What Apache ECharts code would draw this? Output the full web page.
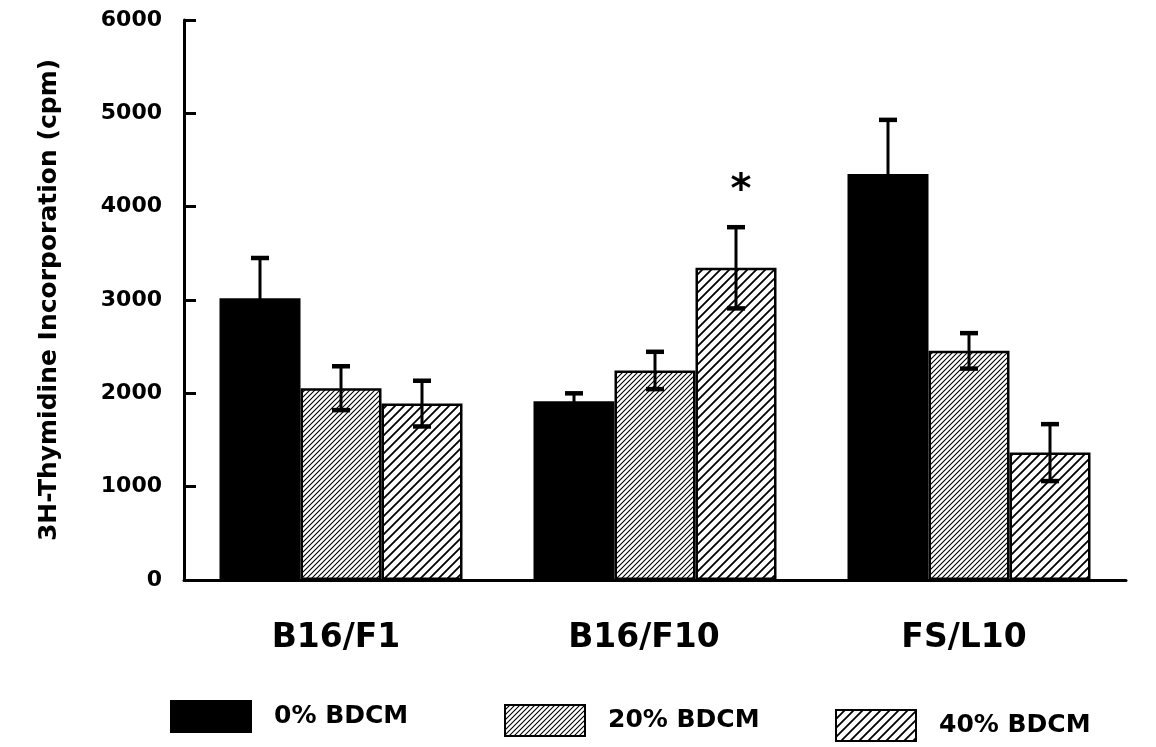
<!DOCTYPE html>
<html>
<head>
<meta charset="utf-8">
<script src="https://cdn.jsdelivr.net/npm/echarts@6/dist/echarts.min.js"></script>
<style>
html,body{margin:0;padding:0;background:#fff;}
#chart{width:1156px;height:747px;}
</style>
</head>
<body>
<div id="chart"></div>
<script>
// ---- data ----
const categories = ['B16/F1', 'B16/F10', 'FS/L10'];
const seriesNames = ['0% BDCM', '20% BDCM', '40% BDCM'];
const means0 = [3020, 1915, 4350];
const errs0 = [430, 85, 580];
const means20 = [2055, 2245, 2455];
const errs20 = [235, 200, 190];
const means40 = [1890, 3345, 1365];
const errs40 = [245, 435, 305];
const marks40 = ['', '*', ''];
const yTicks = [0, 1000, 2000, 3000, 4000, 5000, 6000];
const yTitle = '3H-Thymidine Incorporation (cpm)';

// ---- styles ----
const FONT = '"DejaVu Sans", "Liberation Sans", Arial, sans-serif';
const BAR_W = 81;
const labelShift = [10, 22, 10]; // right padding of category labels (moves them slightly left)

function makeHatch(s, lw) {
  const c = document.createElement('canvas');
  c.width = s; c.height = s;
  const ctx = c.getContext('2d');
  ctx.fillStyle = '#fff';
  ctx.fillRect(0, 0, s, s);
  ctx.strokeStyle = '#000';
  ctx.lineWidth = lw;
  ctx.beginPath();
  ctx.moveTo(-1, 1); ctx.lineTo(1, -1);
  ctx.moveTo(0, s); ctx.lineTo(s, 0);
  ctx.moveTo(s - 1, s + 1); ctx.lineTo(s + 1, s - 1);
  ctx.stroke();
  return { image: c, repeat: 'repeat' };
}
const fills = ['#000', makeHatch(5, 1.1), makeHatch(9, 1.8)];
const meansAll = [means0, means20, means40];
const errsAll = [errs0, errs20, errs40];
const marksAll = [null, null, marks40];

const chart = echarts.init(document.getElementById('chart'), null, { renderer: 'canvas' });

const barSeries = seriesNames.map((name, k) => ({
  type: 'bar',
  name: name,
  data: meansAll[k],
  barWidth: BAR_W,
  barGap: '0%',
  itemStyle: { color: fills[k], borderColor: '#000', borderWidth: 2.5 },
  emphasis: { disabled: true },
  z: 2
}));

const errSeries = seriesNames.map((name, k) => ({
  type: 'custom',
  name: name + ' err',
  data: meansAll[k].map((m, i) => [i, m, errsAll[k][i]]),
  encode: { x: 0, y: 1 },
  z: 5,
  silent: true,
  renderItem: function (params, api) {
    const i = api.value(0), m = api.value(1), e = api.value(2);
    const off = (k - 1) * BAR_W;
    const top = api.coord([i, m + e]);
    const bot = api.coord([i, m - e]);
    const x = top[0] + off;
    const cap = 9;
    const st = { stroke: '#000', lineWidth: 3 };
    const children = [
      { type: 'line', shape: { x1: x, y1: top[1], x2: x, y2: bot[1] }, style: st },
      { type: 'line', shape: { x1: x - cap, y1: top[1], x2: x + cap, y2: top[1] }, style: { stroke: '#000', lineWidth: 4.5 } },
      { type: 'line', shape: { x1: x - cap, y1: bot[1], x2: x + cap, y2: bot[1] }, style: { stroke: '#000', lineWidth: 4.5 } }
    ];
    const marks = marksAll[k];
    if (marks && marks[i]) {
      children.push({
        type: 'text',
        style: {
          x: x + 5, y: top[1] - 36, text: marks[i],
          font: 'bold 40px ' + FONT, fill: '#000',
          align: 'center', verticalAlign: 'middle'
        }
      });
    }
    return { type: 'group', children: children };
  }
}));

const legendLefts = [165, 499, 830];
const legendTops = [695, 699, 704];
const legends = seriesNames.map((name, k) => ({
  data: [name],
  left: legendLefts[k],
  top: legendTops[k],
  itemWidth: 80,
  itemHeight: 31,
  icon: 'rect',
  selectedMode: false,
  textStyle: { fontFamily: FONT, fontWeight: 'bold', fontSize: 25, color: '#000', padding: [14, 0, 0, 18] }
}));

chart.setOption({
  animation: false,
  backgroundColor: '#fff',
  grid: { left: 184, right: 30, top: 20, bottom: 167 },
  legend: legends,
  xAxis: {
    type: 'category',
    data: categories.map((c, i) => ({ value: c, textStyle: { padding: [0, labelShift[i], 0, 0] } })),
    axisLine: { lineStyle: { color: '#000', width: 3 } },
    axisTick: { show: false },
    axisLabel: {
      color: '#000', fontFamily: FONT, fontWeight: 'bold', fontSize: 33,
      margin: 42
    }
  },
  yAxis: {
    type: 'value',
    min: yTicks[0],
    max: yTicks[yTicks.length - 1],
    interval: yTicks[1] - yTicks[0],
    name: yTitle,
    nameLocation: 'middle',
    nameGap: 122,
    nameTextStyle: { fontFamily: FONT, fontWeight: 'bold', fontSize: 25, color: '#000' },
    axisLine: { show: true, lineStyle: { color: '#000', width: 3 } },
    axisTick: { show: true, inside: true, length: 12, lineStyle: { color: '#000', width: 3 } },
    splitLine: { show: false },
    axisLabel: {
      color: '#000', fontFamily: FONT, fontWeight: 'bold', fontSize: 22, margin: 22,
      formatter: v => String(v)
    }
  },
  series: barSeries.concat(errSeries)
});
</script>
</body>
</html>
